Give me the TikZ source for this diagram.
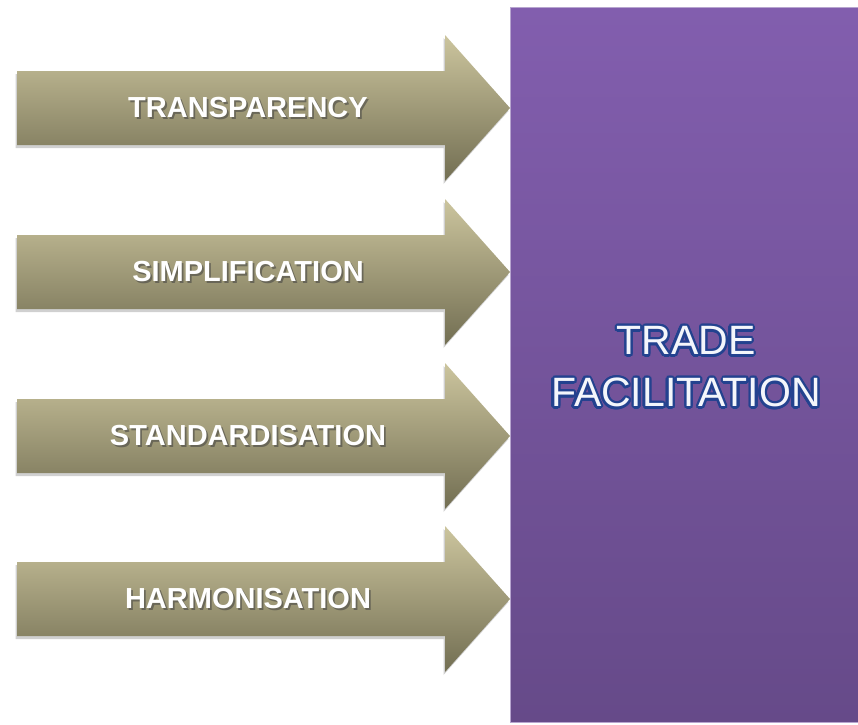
\documentclass[tikz,border=0pt]{standalone}
\usepackage{fontspec}
\setmainfont{Liberation Sans}
\usetikzlibrary{shadows}
\definecolor{ptop}{HTML}{825EAE}
\definecolor{pbot}{HTML}{664A89}
\definecolor{pedge}{HTML}{B7A5CF}
\definecolor{atop}{HTML}{CCC59E}
\definecolor{abot}{HTML}{726E52}
\definecolor{oblue}{HTML}{23428F}
\definecolor{tfill}{HTML}{F4F6FB}
\tikzset{
  arrowshape/.style={top color=atop, bottom color=abot,
    drop shadow={shadow xshift=-1.5pt, shadow yshift=-3pt, opacity=0.3, fill=black!60}},
  lbl/.style={font=\fontsize{29}{34}\selectfont\bfseries, text=white, inner sep=0pt},
  lblshadow/.style={lbl, text=black!75, opacity=0.55},
  ttl/.style={font=\fontsize{41}{52}\selectfont, align=center, inner sep=0pt, text=tfill},
}
\begin{document}
\begin{tikzpicture}[x=1pt,y=-1pt]
\useasboundingbox (0,0) rectangle (858,724);
\fill[white] (0,0) rectangle (858,724);
% purple box
\shade[top color=ptop, bottom color=pbot, draw=pedge, line width=1pt] (510.5,7) rectangle (858,722);
% arrows
\foreach \c/\t/\n in {108/TRANSPARENCY/a1, 272/SIMPLIFICATION/a2, 436/STANDARDISATION/a3, 599/HARMONISATION/a4}{
  \path[arrowshape] (17,\c-37) -- (445,\c-37) -- (445,\c-73) -- (510,\c)
     -- (445,\c+73) -- (445,\c+37) -- (17,\c+37) -- cycle;
  \node[lblshadow] (\n s) at (249.8,\c+2) {\t};
  \node[lbl] (\n) at (248,\c) {\t};
}
% title with outline
\foreach \a in {0,20,...,340}{
  \node[ttl, text=oblue] (t\a) at ([shift={(\a:2.4)}]686,367) {TRADE\\FACILITATION};
}
\node[ttl] (title) at (686,367) {TRADE\\FACILITATION};
\end{tikzpicture}
\end{document}
